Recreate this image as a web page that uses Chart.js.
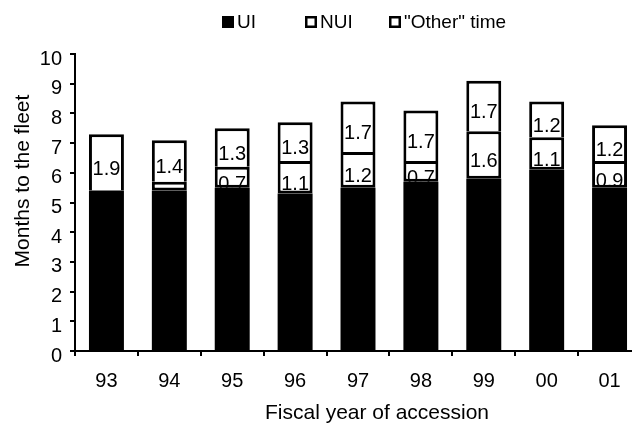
<!DOCTYPE html>
<html>
<head>
<meta charset="utf-8">
<script src="https://cdn.jsdelivr.net/npm/chart.js@4.4.0/dist/chart.umd.min.js"></script>
<style>
    html, body { margin: 0; padding: 0; background: #fff; overflow: hidden; }
    #wrap { width: 641px; height: 429px; position: relative; }
</style>
</head>
<body>
<div id="wrap"><canvas id="fleetChart"></canvas></div>
<script>
// Data
const years = ['93', '94', '95', '96', '97', '98', '99', '00', '01'];
const uiMonths = [5.4, 5.4, 5.5, 5.3, 5.5, 5.7, 5.8, 6.1, 5.5];
const nuiMonths = [0, 0.3, 0.7, 1.1, 1.2, 0.7, 1.6, 1.1, 0.9];
const otherMonths = [1.9, 1.4, 1.3, 1.3, 1.7, 1.7, 1.7, 1.2, 1.2];
const seriesNames = ['UI', 'NUI', '"Other" time'];
const yTicks = [0, 1, 2, 3, 4, 5, 6, 7, 8, 9, 10];
const xTitle = 'Fiscal year of accession';
const yTitle = 'Months to the fleet';

const FONT = '"Liberation Sans", Arial, Helvetica, sans-serif';
Chart.defaults.font.family = FONT;
Chart.defaults.color = '#000';

// value labels inside the white segments, clipped to the segment box
const segmentLabels = {
    id: 'segmentLabels',
    afterDatasetsDraw(chart) {
        const ctx = chart.ctx;
        ctx.save();
        ctx.font = '20px ' + FONT;
        ctx.fillStyle = '#000';
        ctx.textAlign = 'center';
        ctx.textBaseline = 'middle';
        [1, 2].forEach(di => {
            const meta = chart.getDatasetMeta(di);
            meta.data.forEach((bar, i) => {
                const v = chart.data.datasets[di].data[i];
                if (v < 0.5) return;
                const { x, y, base, width } = bar.getProps(['x', 'y', 'base', 'width'], true);
                ctx.save();
                ctx.beginPath();
                ctx.rect(x - width / 2, y, width, base - y);
                ctx.clip();
                ctx.fillText(v.toFixed(1), x, (y + base) / 2 + 7);
                ctx.restore();
            });
        });
        ctx.restore();
    }
};

// legend row and axis titles, placed like the original figure
const legendX = [222, 305, 389];
const frameText = {
    id: 'frameText',
    afterDraw(chart) {
        const ctx = chart.ctx;
        ctx.save();
        ctx.fillStyle = '#000';
        ctx.strokeStyle = '#000';
        ctx.textBaseline = 'middle';
        ctx.font = '19px ' + FONT;
        chart.data.datasets.forEach((ds, i) => {
            const bx = legendX[i];
            const by = 16;
            if (i === 0) {
                ctx.fillRect(bx, by, 12, 12);
            } else {
                ctx.lineWidth = 2.5;
                ctx.strokeRect(bx + 1.25, by + 1.25, 9.5, 9.5);
            }
            ctx.textAlign = 'left';
            ctx.fillText(ds.label, bx + 15, by + 7);
        });

        ctx.font = '21px ' + FONT;
        ctx.textAlign = 'center';
        ctx.fillText(xTitle, 377, 413);

        ctx.translate(23, 181);
        ctx.rotate(-Math.PI / 2);
        ctx.fillText(yTitle, 0, 0);
        ctx.restore();
    }
};

new Chart(document.getElementById('fleetChart'), {
    type: 'bar',
    data: {
        labels: years,
        datasets: [
            {
                label: seriesNames[0],
                data: uiMonths,
                backgroundColor: '#000',
                borderWidth: 0
            },
            {
                label: seriesNames[1],
                data: nuiMonths,
                backgroundColor: '#fff',
                borderColor: '#000',
                borderWidth: 3,
                borderSkipped: false
            },
            {
                label: seriesNames[2],
                data: otherMonths,
                backgroundColor: '#fff',
                borderColor: '#000',
                borderWidth: { top: 3, left: 3, right: 3, bottom: 0 },
                borderSkipped: false
            }
        ]
    },
    options: {
        responsive: true,
        maintainAspectRatio: false,
        animation: false,
        layout: { padding: { top: 54, left: 0, right: 0, bottom: 0 } },
        datasets: {
            bar: { categoryPercentage: 1, barPercentage: 0.556 }
        },
        plugins: {
            legend: { display: false },
            tooltip: { enabled: false }
        },
        scales: {
            x: {
                stacked: true,
                afterFit: (s) => { s.height = 78; },
                border: { color: '#000', width: 2 },
                grid: { drawOnChartArea: false, tickLength: 5, color: '#000', lineWidth: 2 },
                ticks: { font: { size: 20 }, color: '#000', padding: 13 }
            },
            y: {
                stacked: true,
                min: 0,
                max: 10,
                afterFit: (s) => { s.width = 75; },
                afterBuildTicks: (s) => { s.ticks = yTicks.map(v => ({ value: v })); },
                border: { color: '#000', width: 2 },
                grid: { drawOnChartArea: false, tickLength: 5, color: '#000', lineWidth: 2 },
                ticks: { font: { size: 20 }, color: '#000', padding: 8, labelOffset: 5 }
            }
        }
    },
    plugins: [segmentLabels, frameText]
});
</script>
</body>
</html>
